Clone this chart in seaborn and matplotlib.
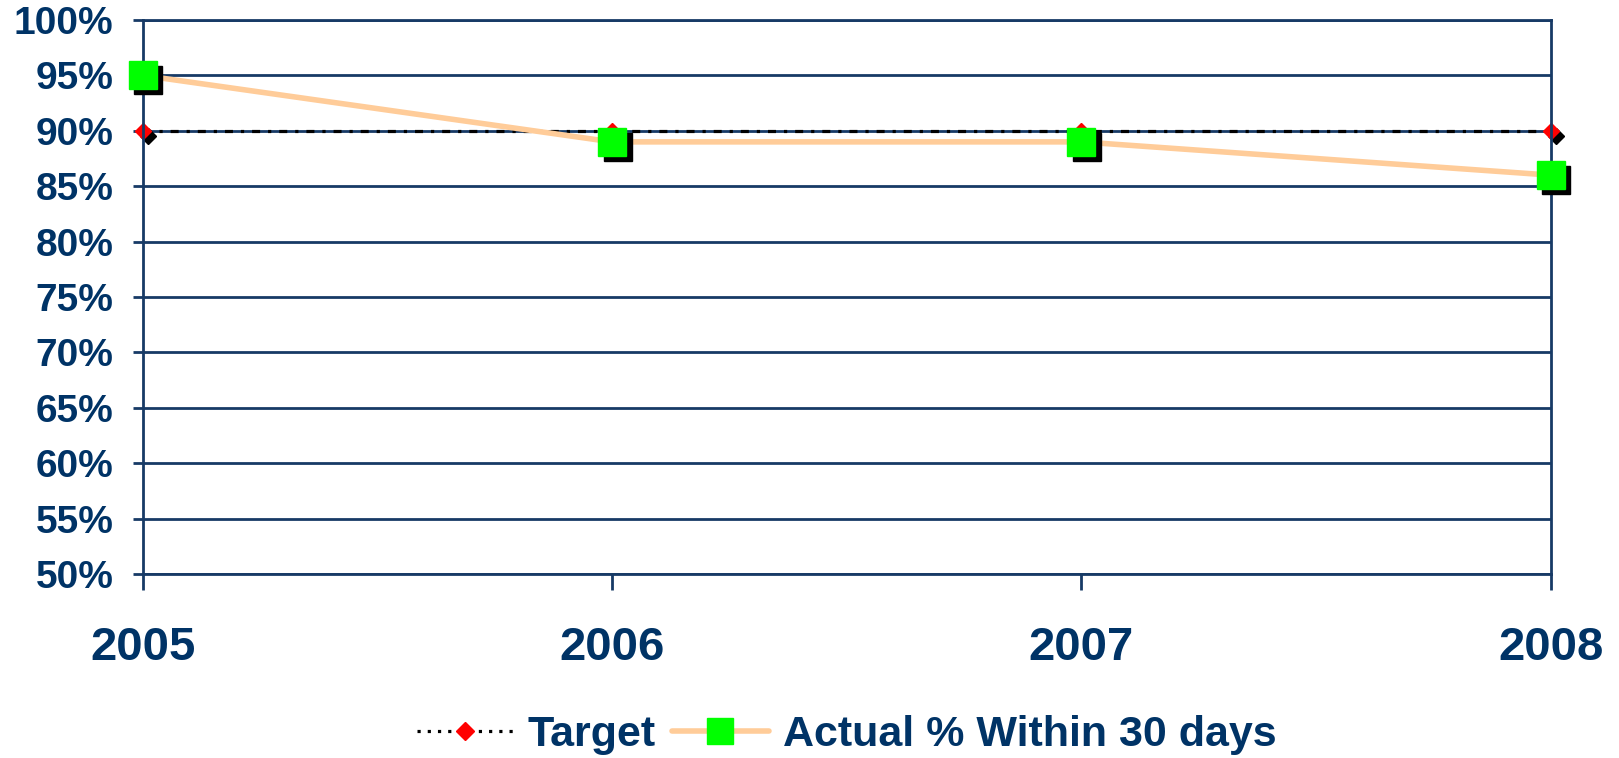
import numpy as np
import pandas as pd
import matplotlib
matplotlib.use("Agg")
import matplotlib.pyplot as plt
import matplotlib.transforms as mtransforms
from matplotlib.lines import Line2D
import seaborn as sns

# ---- data ----
years = ["2005", "2006", "2007", "2008"]
target = [0.90, 0.90, 0.90, 0.90]
actual = [0.95, 0.89, 0.89, 0.86]
y_ticks = [0.50, 0.55, 0.60, 0.65, 0.70, 0.75, 0.80, 0.85, 0.90, 0.95, 1.00]
y_labels = ["50%", "55%", "60%", "65%", "70%", "75%", "80%", "85%", "90%", "95%", "100%"]
series_names = ["Target", "Actual % Within 30 days"]

NAVY = "#173a66"
TEXT = "#003366"
ORANGE = "#FFCC99"
GREEN = "#00FF00"
RED = "#FF0000"

sns.set_theme(style="white")
plt.rcParams["font.family"] = ["Liberation Sans", "DejaVu Sans"]
plt.rcParams["font.weight"] = "bold"

fig = plt.figure(figsize=(16.19, 7.58), dpi=100)
ax = fig.add_axes([0.08814, 0.24274, 0.95781 - 0.08814, 0.97361 - 0.24274])

df = pd.DataFrame({"pos": np.arange(len(years)), "target": target, "actual": actual})

dash = (0, (2.5, 2.5, 1.0, 2.5))
shadow = ax.transData + mtransforms.ScaledTranslation(0.055, -0.05, fig.dpi_scale_trans)

# Target series
sns.lineplot(data=df, x="pos", y="target", ax=ax, color="black", lw=2.3,
             linestyle=dash, zorder=2, legend=False)
ax.plot(df["pos"], df["target"], linestyle="none", marker="D", ms=8,
        color="black", transform=shadow, clip_on=False, zorder=2.1)
ax.plot(df["pos"], df["target"], linestyle="none", marker="D", ms=8,
        mfc=RED, mec=RED, clip_on=False, zorder=2.2)

# Actual series
sns.lineplot(data=df, x="pos", y="actual", ax=ax, color=ORANGE, lw=4,
             zorder=3, legend=False)
ax.plot(df["pos"], df["actual"], linestyle="none", marker="s", ms=20,
        color="black", transform=shadow, clip_on=False, zorder=3.1)
ax.plot(df["pos"], df["actual"], linestyle="none", marker="s", ms=20,
        mfc=GREEN, mec=GREEN, clip_on=False, zorder=3.2)

ax.set_xlim(0, len(years) - 1)
ax.set_ylim(y_ticks[0], y_ticks[-1])
ax.set_xticks(df["pos"])
ax.set_xticklabels(years)
ax.set_yticks(y_ticks)
ax.set_yticklabels(y_labels)
ax.set_xlabel("")
ax.set_ylabel("")

ax.yaxis.grid(True, color=NAVY, lw=2.0)
ax.xaxis.grid(False)
for s in ax.spines.values():
    s.set_visible(True)
    s.set_color(NAVY)
    s.set_linewidth(2.0)

ax.tick_params(axis="x", bottom=True, direction="out", length=11.5, width=2.0,
               color=NAVY, pad=26, labelsize=34, labelcolor=TEXT)
ax.tick_params(axis="y", left=True, direction="out", length=7, width=2.0,
               color=NAVY, pad=14, labelsize=28, labelcolor=TEXT)
for lab in ax.get_xticklabels() + ax.get_yticklabels():
    lab.set_fontweight("bold")

handles = [
    Line2D([], [], color="black", lw=2.3, linestyle=(0, (1.0, 2.2)), marker="D", ms=9,
           mfc=RED, mec=RED),
    Line2D([], [], color=ORANGE, lw=4, marker="s", ms=19, mfc=GREEN, mec=GREEN,
           solid_capstyle="round"),
]
fig.legend(handles, series_names, loc="lower center", bbox_to_anchor=(0.523, 0.004),
           ncol=2, frameon=False, prop=dict(size=31, weight="bold"),
           handlelength=2.25, handletextpad=0.33, columnspacing=0.37,
           borderpad=0, borderaxespad=0, labelcolor=TEXT)

fig.savefig("out.png", dpi=100)
